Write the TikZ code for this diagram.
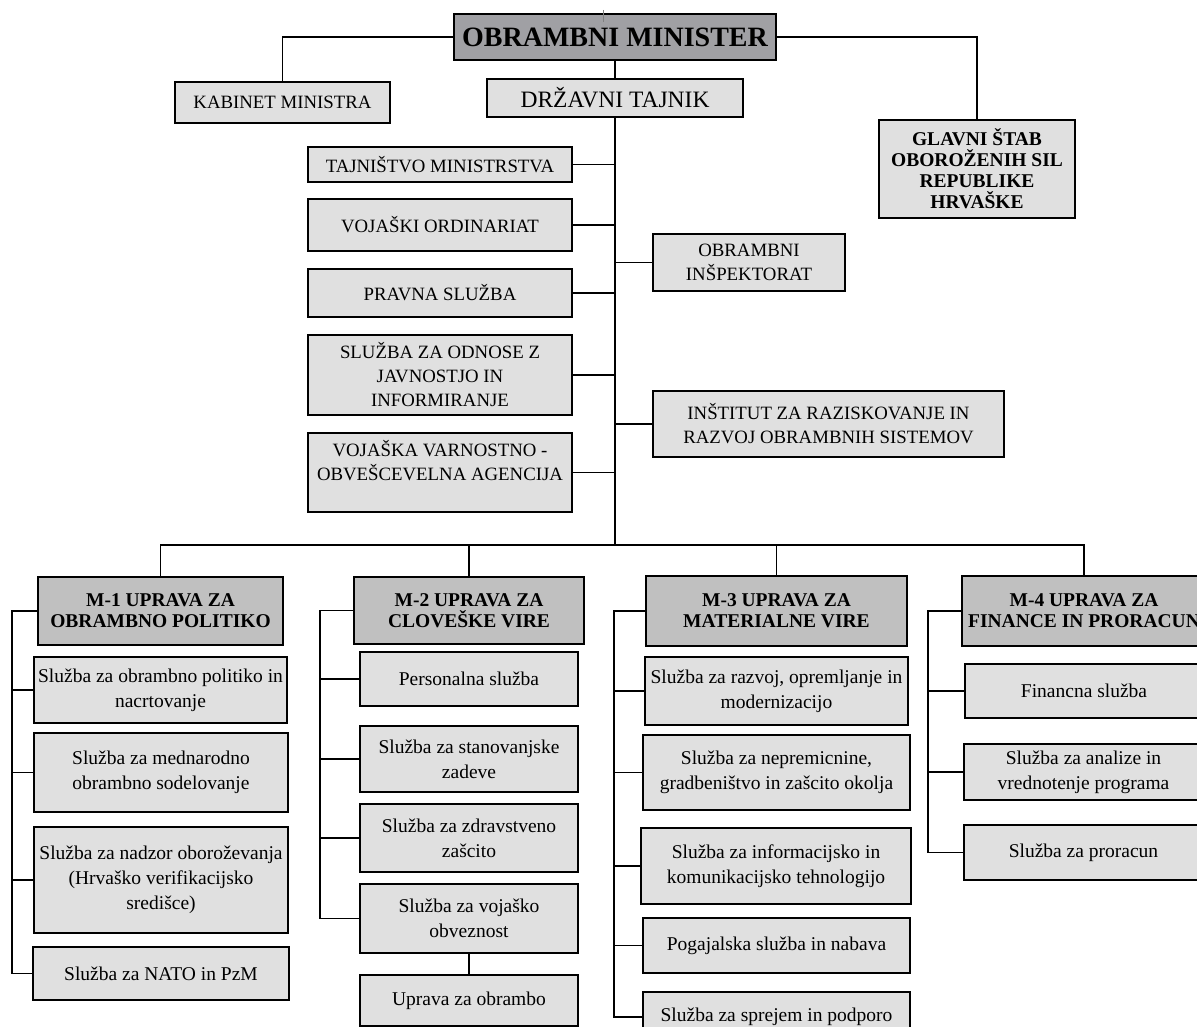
\documentclass[tikz,border=0pt]{standalone}
\usepackage{fontspec}
\setmainfont{Liberation Serif}
\definecolor{lightg}{HTML}{E0E0E0}
\definecolor{midg}{HTML}{C0C0C0}
\definecolor{topg}{HTML}{A0A0A4}
\tikzset{
  box/.style={draw=black, line width=1.8pt, fill=lightg, inner sep=0pt, align=center,
    font=\fontsize{19.5}{25}\selectfont},
  upbox/.style={box, font=\fontsize{18.8}{24}\selectfont},
  dtbox/.style={box, font=\fontsize{23.5}{26}\selectfont},
  mbox/.style={box, fill=midg, font=\bfseries\fontsize{19.5}{21}\selectfont},
  gbox/.style={box, font=\bfseries\fontsize{19.5}{21}\selectfont},
  minbox/.style={box, fill=topg, font=\bfseries\fontsize{28}{30}\selectfont},
  conn/.style={line width=1.8pt, line cap=rect},
}
\newcommand{\mkbox}[7]{\node[#1, minimum width={(#5-#3)*1pt}, minimum height={(#6-#4)*1pt}] (#2) at ({(#3+#5)/2},{(#4+#6)/2}) {#7};}
\begin{document}
\begin{tikzpicture}[x=1pt, y=-1pt]
\useasboundingbox (0,0) rectangle (1197,1027);
\clip (0,0) rectangle (1197,1027);
\fill[white] (0,0) rectangle (1197,1027);

% top level
\mkbox{minbox}{min}{454}{14}{776}{60}{OBRAMBNI MINISTER}
\mkbox{upbox}{kab}{175}{82}{390}{123}{KABINET MINISTRA}
\mkbox{dtbox}{drz}{487}{79}{743}{117}{DRŽAVNI TAJNIK}
\mkbox{gbox}{glav}{879}{120}{1075}{218}{GLAVNI ŠTAB\\OBOROŽENIH SIL\\REPUBLIKE\\HRVAŠKE}
\draw[gray, line width=0.6pt] (603,10) -- (603,22);

% staff units
\mkbox{upbox}{taj}{308}{147}{572}{182}{TAJNIŠTVO MINISTRSTVA}
\mkbox{upbox}{ord}{308}{199}{572}{251}{VOJAŠKI ORDINARIAT}
\mkbox{upbox}{prav}{308}{269}{572}{317}{PRAVNA SLUŽBA}
\mkbox{upbox}{odn}{308}{335}{572}{415}{SLUŽBA ZA ODNOSE Z\\JAVNOSTJO IN\\INFORMIRANJE}
\mkbox{upbox}{vva}{308}{433}{572}{512}{VOJAŠKA VARNOSTNO -\\OBVEŠCEVELNA AGENCIJA\\~}
\mkbox{upbox}{insp}{653}{234}{845}{291}{OBRAMBNI\\INŠPEKTORAT}
\mkbox{upbox}{inst}{653}{391}{1004}{457}{INŠTITUT ZA RAZISKOVANJE IN\\RAZVOJ OBRAMBNIH SISTEMOV}

% directorates
\mkbox{mbox}{m1}{38}{577}{283}{645}{M-1 UPRAVA ZA\\OBRAMBNO POLITIKO}
\mkbox{mbox}{m2}{354}{577}{584}{644}{M-2 UPRAVA ZA\\CLOVEŠKE VIRE}
\mkbox{mbox}{m3}{646}{576}{907}{646}{M-3 UPRAVA ZA\\MATERIALNE VIRE}
\mkbox{mbox}{m4}{962}{576}{1206}{646}{M-4 UPRAVA ZA\\FINANCE IN PRORACUN}

% M-1 services
\mkbox{box}{a1}{34}{657}{287}{723}{Služba za obrambno politiko in\\nacrtovanje}
\mkbox{box}{a2}{34}{733}{288}{812}{Služba za mednarodno\\obrambno sodelovanje}
\mkbox{box}{a3}{34}{827}{288}{933}{Služba za nadzor oboroževanja\\(Hrvaško verifikacijsko\\središce)}
\mkbox{box}{a4}{33}{947}{289}{1000}{Služba za NATO in PzM}

% M-2 services
\mkbox{box}{b1}{360}{652}{578}{706}{Personalna služba}
\mkbox{box}{b2}{360}{726}{578}{792}{Služba za stanovanjske\\zadeve}
\mkbox{box}{b3}{360}{804}{578}{872}{Služba za zdravstveno\\zašcito}
\mkbox{box}{b4}{360}{884}{578}{953}{Služba za vojaško\\obveznost}
\mkbox{box}{b5}{360}{975}{578}{1026}{Uprava za obrambo}

% M-3 services
\mkbox{box}{c1}{645}{657}{908}{725}{Služba za razvoj, opremljanje in\\modernizacijo}
\mkbox{box}{c2}{643}{735}{910}{810}{Služba za nepremicnine,\\gradbeništvo in zašcito okolja}
\mkbox{box}{c3}{641}{828}{911}{904}{Služba za informacijsko in\\komunikacijsko tehnologijo}
\mkbox{box}{c4}{643}{918}{910}{973}{Pogajalska služba in nabava}
\mkbox{box}{c5}{643}{992}{910}{1042}{Služba za sprejem in podporo}

% M-4 services
\mkbox{box}{d1}{965}{664}{1203}{718}{Financna služba}
\mkbox{box}{d2}{964}{744}{1203}{800}{Služba za analize in\\vrednotenje programa}
\mkbox{box}{d3}{964}{825}{1203}{880}{Služba za proracun}

% connectors: top
\draw[conn] (min.west) -| (kab.north);
\draw[conn] (min.east) -| (glav.north);
\draw[conn] (min.south) -- (drz.north);
\coordinate (bus) at (615,545);
\draw[conn] (drz.south) -- (bus);
\foreach \n in {taj,ord,prav,odn,vva} \draw[conn] (\n.east) -- (\n.east -| bus);
\foreach \n in {insp,inst} \draw[conn] (\n.west) -- (\n.west -| bus);

% bus to directorates
\draw[conn] (m1.north) |- (bus) -| (m4.north);
\draw[conn] (m2.north) |- (bus);
\draw[conn] (m3.north) |- (bus);

% brackets
\draw[conn] (m1.west) -- ++(-25,0) coordinate (k1) |- (a4.west);
\foreach \n in {a1,a2,a3} \draw[conn] (\n.west) -- (\n.west -| k1);
\draw[conn] (m2.west) -- ++(-33,0) coordinate (k2) |- (b4.west);
\foreach \n in {b1,b2,b3} \draw[conn] (\n.west) -- (\n.west -| k2);
\draw[conn] (b4.south) -- (b5.north);
\draw[conn] (m3.west) -- ++(-31,0) coordinate (k3) |- (c5.west);
\foreach \n in {c1,c2,c3,c4} \draw[conn] (\n.west) -- (\n.west -| k3);
\draw[conn] (m4.west) -- ++(-33,0) coordinate (k4) |- (d3.west);
\foreach \n in {d1,d2} \draw[conn] (\n.west) -- (\n.west -| k4);
\end{tikzpicture}
\end{document}
